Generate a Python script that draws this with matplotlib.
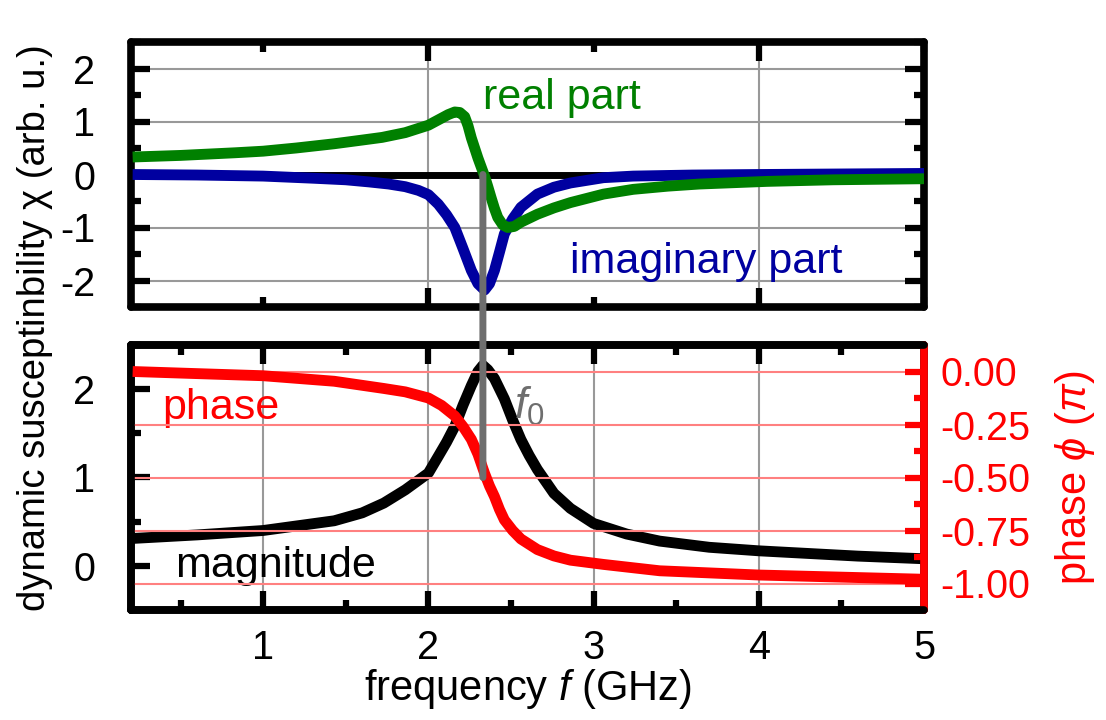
import matplotlib
matplotlib.use("Agg")
import matplotlib.pyplot as plt
from matplotlib.patches import ConnectionPatch
from matplotlib.ticker import MultipleLocator

plt.rcParams["font.family"] = ["Liberation Sans", "DejaVu Sans"]
plt.rcParams["axes.unicode_minus"] = False
plt.rcParams["mathtext.fontset"] = "custom"
plt.rcParams["mathtext.it"] = "Liberation Sans:italic"
plt.rcParams["mathtext.rm"] = "Liberation Sans"

# values
f_re = [0.21, 0.5, 0.83, 1.0, 1.2, 1.43, 1.6, 1.72, 1.86, 2.0, 2.06, 2.12, 2.16,
        2.19, 2.22, 2.24, 2.26, 2.28, 2.30, 2.32, 2.34, 2.36, 2.38, 2.40, 2.42,
        2.45, 2.48, 2.52, 2.56, 2.66, 2.76, 2.86, 3.06, 3.24, 3.45, 3.64, 4.05,
        4.45, 5.0]
chi_re = [0.33, 0.36, 0.41, 0.44, 0.5, 0.58, 0.65, 0.7, 0.79, 0.93, 1.03, 1.13,
          1.18, 1.17, 1.09, 0.92, 0.69, 0.5, 0.31, 0.14, -0.03, -0.23, -0.44,
          -0.64, -0.81, -0.95, -1.0, -0.98, -0.9, -0.75, -0.63, -0.53, -0.37,
          -0.28, -0.22, -0.18, -0.13, -0.1, -0.08]

f_im = [0.21, 0.6, 1.0, 1.3, 1.5, 1.64, 1.76, 1.86, 1.94, 2.0, 2.06, 2.11, 2.16,
        2.21, 2.26, 2.30, 2.34, 2.37, 2.40, 2.43, 2.46, 2.51, 2.56, 2.66, 2.76,
        2.86, 3.06, 3.24, 3.6, 4.0, 5.0]
chi_im = [0.0, -0.01, -0.03, -0.07, -0.1, -0.14, -0.18, -0.23, -0.3, -0.38,
          -0.56, -0.76, -1.0, -1.4, -1.81, -2.06, -2.18, -2.06, -1.81, -1.47,
          -1.12, -0.84, -0.62, -0.37, -0.24, -0.16, -0.06, -0.03, -0.01, 0.0,
          0.02]

f_mag = [0.21, 0.6, 1.0, 1.43, 1.6, 1.73, 1.86, 2.0, 2.06, 2.11, 2.16, 2.21,
         2.26, 2.30, 2.33, 2.36, 2.40, 2.46, 2.51, 2.56, 2.61, 2.66, 2.76, 2.86,
         3.0, 3.2, 3.4, 3.7, 4.0, 4.3, 4.6, 5.0]
magnitude = [0.31, 0.35, 0.4, 0.51, 0.6, 0.71, 0.86, 1.05, 1.24, 1.4, 1.58,
             1.82, 2.04, 2.2, 2.27, 2.22, 2.12, 1.89, 1.65, 1.43, 1.25, 1.09,
             0.82, 0.65, 0.48, 0.36, 0.28, 0.21, 0.17, 0.14, 0.11, 0.08]

f_ph = [0.21, 0.6, 1.0, 1.43, 1.73, 1.86, 2.0, 2.08, 2.16, 2.21, 2.26, 2.30,
        2.34, 2.37, 2.40, 2.43, 2.46, 2.51, 2.56, 2.66, 2.76, 2.86, 3.06, 3.4,
        4.0, 5.0]
phase = [0.0, -0.01, -0.02, -0.046, -0.08, -0.096, -0.125, -0.16, -0.21, -0.26,
         -0.32, -0.39, -0.48, -0.54, -0.59, -0.65, -0.70, -0.75, -0.79, -0.84,
         -0.87, -0.89, -0.91, -0.94, -0.96, -0.98]

f0 = 2.33

GREEN, BLUE, RED, GRAY = "#008000", "#0000a0", "#ff0000", "#6e6e6e"
LW, SPW = 7.8, 5.5
FS = 28.5

fig = plt.figure(figsize=(11.06, 7.2), dpi=100)
L, W = 131 / 1106, (924 - 131) / 1106
ax1 = fig.add_axes([L, 1 - 307 / 720, W, (307 - 42) / 720])
ax2 = fig.add_axes([L, 1 - 610 / 720, W, (610 - 345) / 720])
ax3 = ax2.twinx()


def style(ax, color="k"):
    for s in ax.spines.values():
        s.set_linewidth(SPW)
        s.set_capstyle("round")
    ax.tick_params(which="both", direction="in", width=4.5, labelsize=FS,
                   colors=color)
    ax.tick_params(which="major", length=14, pad=26)
    ax.tick_params(which="minor", length=7)


def curve(ax, x, y, color):
    ax.plot(x, y, color=color, lw=LW, solid_capstyle="butt",
            solid_joinstyle="round", zorder=3)


# top panel: real and imaginary part
style(ax1)
ax1.set_xlim(0.2, 5)
ax1.set_ylim(-2.5, 2.5)
ax1.xaxis.set_major_locator(MultipleLocator(2))
ax1.xaxis.set_minor_locator(MultipleLocator(1))
ax1.yaxis.set_major_locator(MultipleLocator(1))
ax1.yaxis.set_minor_locator(MultipleLocator(0.5))
ax1.tick_params(which="both", top=True, right=True, labelbottom=False)
ax1.grid(True, which="major", color="#999999", lw=1.5)
ax1.axhline(0, color="k", lw=5, zorder=2.8)
curve(ax1, f_im, chi_im, BLUE)
curve(ax1, f_re, chi_re, GREEN)
ax1.text(2.33, 1.45, "real part", color=GREEN, fontsize=31, va="center")
ax1.text(2.86, -1.65, "imaginary part", color=BLUE, fontsize=31, va="center")

# bottom panel: magnitude and phase
style(ax2)
ax2.set_xlim(0.2, 5)
ax2.set_ylim(-0.5, 2.5)
ax2.xaxis.set_major_locator(MultipleLocator(1))
ax2.xaxis.set_minor_locator(MultipleLocator(0.5))
ax2.yaxis.set_major_locator(MultipleLocator(1))
ax2.yaxis.set_minor_locator(MultipleLocator(0.5))
ax2.tick_params(which="both", top=True, right=False)
ax2.tick_params(axis="x", which="major", pad=14)
ax2.grid(True, axis="x", which="major", color="#999999", lw=1.5)
curve(ax2, f_mag, magnitude, "k")
ax2.text(0.47, 0.0, "magnitude", color="k", fontsize=31, va="center")
ax2.text(0.39, 1.79, "phase", color=RED, fontsize=31, va="center")
ax2.text(2.52, 1.8, "$f_0$", color=GRAY, fontsize=32, va="center")
ax2.set_xlabel("frequency $f$ (GHz)", fontsize=30, labelpad=0)

style(ax3, RED)
ax3.spines["right"].set_color(RED)
ax3.set_ylim(-1.125, 0.125)
ax3.yaxis.set_major_locator(MultipleLocator(0.25))
ax3.yaxis.set_minor_locator(MultipleLocator(0.125))
ax3.yaxis.set_major_formatter(lambda v, p: f"{v:.2f}")
ax3.tick_params(axis="y", which="major", pad=12)
ax3.grid(True, axis="y", which="major", color="#ff8080", lw=1.5)
curve(ax3, f_ph, phase, RED)
ax3.set_ylabel("phase $\\phi$ ($\\pi$)", color=RED, fontsize=30, labelpad=16)

# resonance marker spanning both panels
con = ConnectionPatch((f0, 0), (f0, -0.5), coordsA=ax1.transData,
                      coordsB=ax3.transData, color=GRAY, lw=5, zorder=10)
fig.add_artist(con)

fig.text(0.032, 0.545, "dynamic susceptinbility \u03c7 (arb. u.)", rotation=90,
         fontsize=27.5, ha="center", va="center")

plt.savefig("out.png", dpi=100)
plt.close()
